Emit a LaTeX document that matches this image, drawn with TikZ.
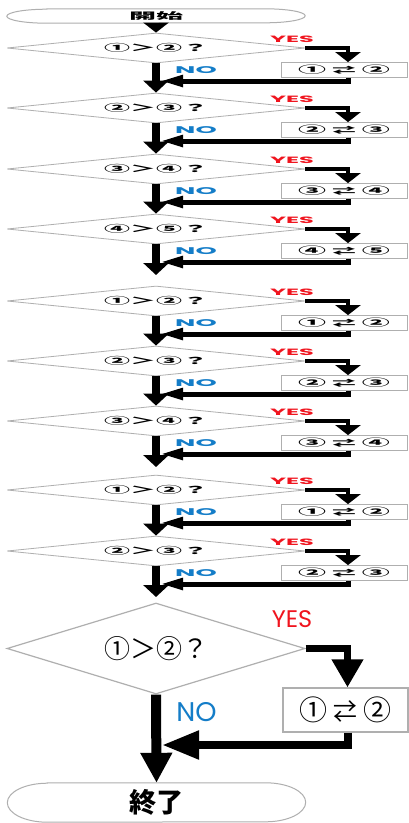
\documentclass[tikz,border=0pt]{standalone}
\usepackage{fontspec}
\usepackage{graphicx}
\usetikzlibrary{arrows.meta,shapes.geometric,calc}

\newfontfamily\jpfont{Noto Sans CJK JP}
\newfontfamily\labelfont{Poppins}

\definecolor{yesred}{RGB}{240,20,30}
\definecolor{noblue}{RGB}{20,125,200}
\definecolor{edgegray}{RGB}{175,175,175}

% text flattened vertically for the compact steps
\newcommand\squashtext[2]{\scalebox{1}[#1]{#2}}
% thin swap arrows between the two circled numbers
\newcommand\swapsign{\scalebox{0.85}{⇄}}
% rounded terminal outline around a named node
\newcommand\pilloutline[3]{%
  \draw[pillline] ($(#1.north west)+(#2,0)$) -- ($(#1.north east)+(-#2,0)$)
    arc[start angle=90,end angle=-90,x radius=#2,y radius=#3]
    -- ($(#1.south west)+(#2,0)$)
    arc[start angle=270,end angle=90,x radius=#2,y radius=#3] -- cycle;}

\tikzset{
  pillline/.style={draw=edgegray, line width=1pt},
  terminal/.style={rectangle, draw=none, inner sep=0pt, minimum width=298pt},
  decision/.style={diamond, draw=edgegray, line width=0.8pt, fill=white,
    inner sep=0pt, minimum width=298pt, minimum height=30pt, shape aspect=10},
  bigdecision/.style={diamond, draw=edgegray, line width=1.2pt, fill=white,
    inner sep=0pt, minimum width=298pt, minimum height=91pt, shape aspect=3.27},
  swapbox/.style={rectangle, draw=edgegray, line width=0.8pt, fill=white,
    inner sep=0pt, minimum width=126pt, minimum height=15pt},
  bigswapbox/.style={rectangle, draw=edgegray, line width=1.2pt, fill=white,
    inner sep=0pt, minimum width=125pt, minimum height=44pt},
  yestext/.style={inner sep=0pt, text=yesred, font=\labelfont},
  notext/.style={inner sep=0pt, text=noblue, font=\labelfont},
  mainflow/.style={line width=8pt, -{Triangle[length=12pt,width=25pt]}},
  yesflow/.style={line width=3.5pt, -{Triangle[length=10pt,width=25pt]}},
  backflow/.style={line width=5pt, -{Triangle[length=23pt,width=11pt]}},
  bigmainflow/.style={line width=10pt, -{Triangle[length=30pt,width=30pt]}},
  bigyesflow/.style={line width=7pt, -{Triangle[length=28pt,width=30pt]}},
  bigbackflow/.style={line width=8pt, -{Triangle[length=37pt,width=27pt]}},
}

\begin{document}
\begin{tikzpicture}[x=1pt,y=1pt]
\useasboundingbox (0,0) rectangle (409,-823);
\fill[white] (0,0) rectangle (409,-823);

% start terminal
\node[terminal, minimum height=14pt] (start) at (156,-16)
  {\squashtext{0.34}{\fontsize{27}{27}\selectfont\jpfont\bfseries 開始}};
\pilloutline{start}{40}{7}

% compact comparison steps
\foreach \n/\y/\a/\b in {1/48/①/②, 2/108/②/③, 3/169/③/④, 4/229/④/⑤,
                         5/301/①/②, 6/361/②/③, 7/421/③/④,
                         8/490/①/②, 9/551/②/③}{
  \node[decision] (d\n) at (156,{-\y})
    {\squashtext{0.37}{\fontsize{26}{26}\selectfont\jpfont\bfseries \a＞\b？}};
  \node[swapbox] (b\n) at (344,{-\y-22})
    {\squashtext{0.36}{\fontsize{28}{28}\selectfont\jpfont\bfseries \a\hspace{6pt}\swapsign\hspace{6pt}\b}};
  \node[yestext] (y\n) at (292,{-\y+9})
    {\squashtext{0.38}{\fontsize{24}{24}\selectfont\bfseries YES}};
  \node[notext] (no\n) at (196,{-\y-22})
    {\squashtext{0.36}{\fontsize{27}{27}\selectfont\bfseries NO}};
  \coordinate (r\n) at (160,{-\y-33});
  \coordinate (t\n) at (156,{-\y-46});
}

% final comparison step
\node[bigdecision] (d10) at (156,-648.5)
  {\fontsize{26}{26}\selectfont\jpfont ①＞②？};
\node[bigswapbox] (b10) at (345.5,-710)
  {\fontsize{28}{28}\selectfont\jpfont ①\hspace{6pt}\swapsign\hspace{6pt}②};
\node[yestext] (y10) at (292,-619) {\fontsize{24}{24}\selectfont YES};
\node[notext] (no10) at (196.5,-712.5) {\fontsize{27}{27}\selectfont NO};
\coordinate (r10) at (162,-745);

% end terminal
\node[terminal, minimum height=39pt] (end) at (156.5,-802.5)
  {\fontsize{27}{27}\selectfont\jpfont\bfseries 終了};
\pilloutline{end}{40}{19.5}

% connectors of the compact steps
\draw[mainflow, -{Triangle[length=10pt,width=25pt]}] (start.south) -- (d1.north);
\foreach \n/\nxt in {1/d2, 2/d3, 3/d4, 4/t4, 5/d6, 6/d7, 7/t7, 8/d9, 9/t9}{
  \draw[yesflow] (d\n.east) -| ($(b\n.north)+(4,0)$);
  \draw[backflow] ($(b\n.south)+(4,0)$) |- (r\n);
  \draw[mainflow] (d\n.south) -- (\nxt);
}

% connectors of the final step
\draw[bigyesflow] (d10.east) -| ($(b10.north)+(2,0)$);
\draw[bigbackflow] ($(b10.south)+(2,0)$) |- (r10);
\draw[bigmainflow] (d10.south) -- (end.north);
\end{tikzpicture}
\end{document}
